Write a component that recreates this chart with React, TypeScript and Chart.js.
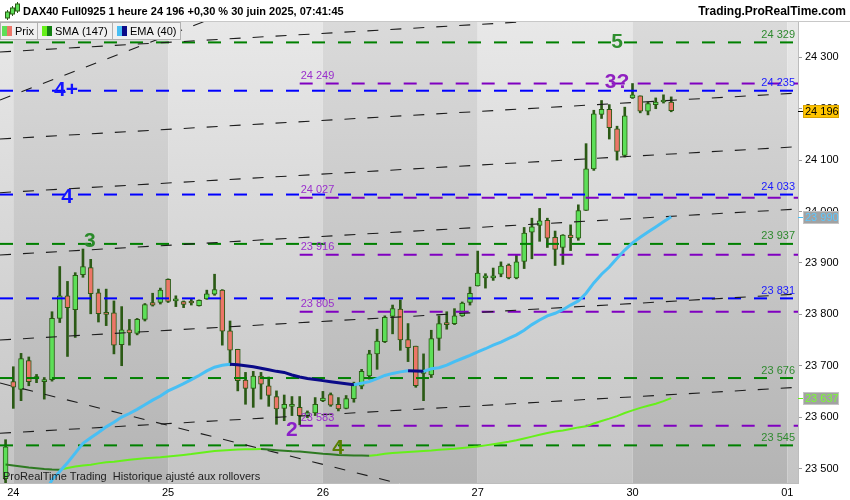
import React, { useEffect, useRef } from "react";
import { Chart, registerables } from "chart.js";

Chart.register(...registerables);

const FONT = '"Liberation Sans", Arial, sans-serif';

// x = hourly bar index (0 = first bar of Tue 24 June, 20 bars per day)
const FIRST_BAR = -1;
const OPEN = [23480, 23669, 23654, 23710, 23675, 23669, 23673, 23792, 23836, 23809, 23877, 23891, 23842, 23801, 23803, 23741, 23770, 23763, 23790, 23823, 23823, 23868, 23826, 23825, 23825, 23817, 23830, 23839, 23847, 23768, 23732, 23672, 23656, 23680, 23661, 23640, 23617, 23621, 23619, 23603, 23608, 23632, 23644, 23625, 23617, 23636, 23660, 23680, 23723, 23747, 23796, 23810, 23751, 23738, 23685, 23682, 23753, 23784, 23782, 23797, 23823, 23855, 23871, 23871, 23878, 23896, 23871, 23903, 23960, 23973, 23983, 23950, 23930, 23954, 23948, 24002, 24083, 24189, 24199, 24161, 24109, 24221, 24225, 24195, 24208, 24213, 24213];
const HIGH = [23556, 23698, 23724, 23717, 23683, 23677, 23805, 23893, 23864, 23881, 23927, 23907, 23849, 23849, 23826, 23815, 23790, 23792, 23821, 23841, 23851, 23869, 23836, 23826, 23829, 23828, 23847, 23878, 23848, 23787, 23732, 23687, 23689, 23687, 23678, 23651, 23643, 23640, 23640, 23612, 23638, 23650, 23647, 23638, 23642, 23668, 23693, 23730, 23771, 23797, 23818, 23828, 23782, 23738, 23723, 23769, 23797, 23805, 23811, 23824, 23853, 23923, 23879, 23890, 23902, 23898, 23915, 23969, 23987, 24006, 23987, 23962, 23955, 23974, 24013, 24132, 24197, 24216, 24208, 24166, 24203, 24249, 24225, 24213, 24221, 24227, 24223];
const LOW = [23460, 23617, 23632, 23661, 23667, 23635, 23670, 23784, 23718, 23755, 23872, 23801, 23785, 23778, 23723, 23700, 23740, 23760, 23787, 23816, 23820, 23823, 23815, 23813, 23818, 23816, 23829, 23837, 23740, 23700, 23651, 23625, 23619, 23635, 23621, 23586, 23593, 23603, 23585, 23599, 23603, 23630, 23621, 23612, 23616, 23629, 23655, 23674, 23693, 23745, 23762, 23730, 23708, 23658, 23632, 23677, 23730, 23771, 23780, 23796, 23818, 23855, 23851, 23866, 23873, 23869, 23869, 23889, 23908, 23942, 23930, 23895, 23897, 23924, 23944, 24002, 24080, 24181, 24141, 24100, 24106, 24220, 24192, 24188, 24200, 24211, 24194];
const CLOSE = [23542, 23658, 23714, 23669, 23678, 23673, 23792, 23836, 23813, 23876, 23893, 23840, 23801, 23800, 23740, 23770, 23764, 23790, 23819, 23818, 23847, 23825, 23827, 23819, 23822, 23827, 23840, 23848, 23767, 23730, 23671, 23656, 23680, 23664, 23642, 23616, 23625, 23622, 23603, 23609, 23625, 23637, 23623, 23616, 23636, 23662, 23689, 23723, 23748, 23794, 23811, 23750, 23735, 23661, 23686, 23753, 23782, 23780, 23797, 23822, 23841, 23880, 23875, 23875, 23894, 23871, 23902, 23958, 23970, 23982, 23948, 23926, 23954, 23949, 24002, 24083, 24190, 24199, 24163, 24117, 24186, 24227, 24195, 24210, 24213, 24214, 24196];

const EMA_START = 3;
const EMA40 = [23420, 23450, 23478, 23494, 23511, 23530, 23549, 23560, 23570, 23581, 23590, 23600, 23607, 23615, 23624, 23633, 23641, 23651, 23658, 23665, 23673, 23681, 23690, 23697, 23701, 23703, 23702, 23700, 23698, 23695, 23692, 23689, 23687, 23682, 23678, 23675, 23673, 23671, 23669, 23667, 23665, 23663, 23666, 23669, 23675, 23681, 23685, 23688, 23690, 23689.5, 23689, 23694, 23696, 23701, 23708, 23714, 23720, 23727, 23733, 23740, 23746, 23753, 23760, 23769, 23780, 23789, 23797, 23802, 23809, 23818, 23826, 23841, 23861, 23878, 23892, 23909, 23925, 23939, 23950, 23960, 23970, 23980, 23990];

const SMA_START = -1;
const SMA147 = [23508, 23506, 23504, 23502, 23500.5, 23499, 23498, 23497.5, 23501, 23504, 23506, 23507.5, 23510, 23512, 23513, 23515, 23517, 23518.5, 23520, 23521, 23522, 23523.5, 23525, 23526.5, 23528, 23530, 23532, 23534, 23535, 23536, 23537, 23537.5, 23537.7, 23537.8, 23536.8, 23535.5, 23534.5, 23533.5, 23533, 23531.5, 23530, 23528.5, 23527.5, 23526.5, 23526, 23525.5, 23525.3, 23525, 23526.5, 23528.5, 23530, 23531, 23532, 23533, 23534, 23535, 23536.5, 23537.5, 23538.5, 23540, 23541.5, 23543, 23545, 23547.3, 23549.6, 23552, 23555, 23558.4, 23562, 23565.6, 23569, 23572, 23574, 23577, 23580, 23582, 23587.5, 23592.4, 23597, 23602, 23608, 23613, 23618, 23622, 23626, 23631, 23637];

const DAY_TICKS = [0, 20, 40, 60, 80, 100];
const DAY_LABELS = ["24", "25", "26", "27", "30", "01"];
const Y_TICKS = [23500, 23600, 23700, 23800, 23900, 24000, 24100, 24200, 24300];

const GREEN_LEVELS = [24329, 23937, 23676, 23545];
const BLUE_LEVELS = [24235, 24033, 23831];
const PURPLE_LEVELS = [24249, 24027, 23916, 23805, 23583];
const PURPLE_FROM = 37;

// trend lines: [bar1, price1, bar2, price2]
const TRENDLINES = [
  [-1.72, 24310.3, 101.38, 24399.8],
  [-1.72, 24141.0, 101.38, 24230.5],
  [-1.72, 24036.6, 101.38, 24126.1],
  [-1.72, 23915.4, 101.38, 24004.9],
  [-1.72, 23750.0, 101.38, 23839.5],
  [-1.72, 23568.5, 101.38, 23658.0],
  [-1.72, 24216.9, 30, 24400.5],
  [-1.72, 23666.3, 60, 23432.1],
];

const MARK_TEXT = ["5", "3?", "4+", "4", "3", "2", "4"];
const MARK_BAR = [78, 78, 6.8, 6.94, 9.9, 36, 41.95];
const MARK_PRICE = [24330, 24252, 24236, 24028, 23943, 23575, 23540];
const MARK_COLOR = ["#2f8f2f", "#9020c0", "#1414ff", "#1414ff", "#2a8a2a", "#8a1fc8", "#5a7f00"];

const X_MIN = -1.72;
const X_MAX = 101.38;
const Y_MIN = 23471.8;
const Y_MAX = 24368.7;

const C_GREEN = "#5ddf58";
const C_RED = "#ec7668";
const C_EDGE = "#2b5a15";
const LV_GREEN = "#008000";
const LV_BLUE = "#0000ff";
const LV_PURPLE = "#8000c0";
const EMA_UP = "#48bff4";
const EMA_DOWN = "#0a0a88";
const SMA_UP = "#66f01a";
const SMA_DOWN = "#2e7a22";

const fmt = (v: number) => {
  const r = Math.round(v);
  const th = Math.floor(r / 1000);
  const rest = String(r % 1000).padStart(3, "0");
  return `${th} ${rest}`;
};

const bgPlugin = {
  id: "bg",
  beforeDraw(chart: any) {
    const { ctx, chartArea: a, scales } = chart;
    ctx.save();
    ctx.fillStyle = "#ffffff";
    ctx.fillRect(0, 0, chart.width, chart.height);
    const light = ctx.createLinearGradient(0, a.top, 0, a.bottom);
    light.addColorStop(0, "#e8e8e8");
    light.addColorStop(1, "#c4c4c4");
    const dark = ctx.createLinearGradient(0, a.top, 0, a.bottom);
    dark.addColorStop(0, "#dadada");
    dark.addColorStop(1, "#b4b4b4");
    const bounds = [X_MIN, ...DAY_TICKS, X_MAX];
    for (let k = 0; k < bounds.length - 1; k++) {
      const x0 = scales.x.getPixelForValue(bounds[k]);
      const x1 = scales.x.getPixelForValue(bounds[k + 1]);
      ctx.fillStyle = k % 2 === 0 ? light : dark;
      ctx.fillRect(x0, a.top, x1 - x0, a.bottom - a.top);
    }
    // header
    ctx.fillStyle = "#ffffff";
    ctx.fillRect(0, 0, chart.width, a.top);
    ctx.strokeStyle = "#c8c8c8";
    ctx.lineWidth = 1;
    ctx.beginPath();
    ctx.moveTo(0, a.top - 0.5);
    ctx.lineTo(chart.width, a.top - 0.5);
    ctx.stroke();
    // small candle icon
    const icon = [
      [7, 12, 18, 10, 20],
      [12, 8, 14, 6, 16],
      [17, 4, 11, 2, 13],
    ];
    icon.forEach(([x, t, b, wt, wb]) => {
      ctx.strokeStyle = C_EDGE;
      ctx.beginPath();
      ctx.moveTo(x + 0.5, wt);
      ctx.lineTo(x + 0.5, wb);
      ctx.stroke();
      ctx.fillStyle = C_GREEN;
      ctx.fillRect(x - 1.5, t, 4, b - t);
      ctx.strokeRect(x - 1.5, t, 4, b - t);
    });
    ctx.fillStyle = "#000";
    ctx.textBaseline = "middle";
    ctx.textAlign = "left";
    ctx.font = `bold 11px ${FONT}`;
    ctx.fillText("DAX40 Full0925 1 heure 24 196 +0,30 % 30 juin 2025, 07:41:45", 23, 12);
    ctx.textAlign = "right";
    ctx.font = `bold 12px ${FONT}`;
    ctx.fillText("Trading.ProRealTime.com", 846, 12);
    ctx.restore();
  },
  afterDatasetsDraw(chart: any) {
    const { ctx, chartArea: a, scales } = chart;
    const xs = scales.x;
    const ys = scales.y;
    ctx.save();
    ctx.font = `11px ${FONT}`;
    ctx.textBaseline = "bottom";
    ctx.textAlign = "right";
    GREEN_LEVELS.forEach((v) => {
      ctx.fillStyle = "#2f8a2f";
      ctx.fillText(fmt(v), a.right - 3, ys.getPixelForValue(v) - 2);
    });
    BLUE_LEVELS.forEach((v) => {
      ctx.fillStyle = "#1a1aff";
      ctx.fillText(fmt(v), a.right - 3, ys.getPixelForValue(v) - 2);
    });
    ctx.textAlign = "left";
    PURPLE_LEVELS.forEach((v) => {
      ctx.fillStyle = "#9a30cc";
      ctx.fillText(fmt(v), xs.getPixelForValue(PURPLE_FROM) + 1, ys.getPixelForValue(v) - 2);
    });
    ctx.font = `bold 21px ${FONT}`;
    ctx.textAlign = "center";
    ctx.textBaseline = "middle";
    MARK_TEXT.forEach((t, k) => {
      ctx.fillStyle = MARK_COLOR[k];
      ctx.fillText(t, xs.getPixelForValue(MARK_BAR[k]), ys.getPixelForValue(MARK_PRICE[k]));
    });
    ctx.restore();
  },
  afterDraw(chart: any) {
    const { ctx, chartArea: a, scales } = chart;
    const ys = scales.y;
    ctx.save();
    // legend box
    const ly = a.top;
    ctx.fillStyle = "#f0f0f0";
    ctx.fillRect(0, ly, 180, 18);
    ctx.strokeStyle = "#b0b0b0";
    ctx.lineWidth = 1;
    ctx.strokeRect(0.5, ly + 0.5, 180, 17);
    ctx.beginPath();
    ctx.moveTo(37.5, ly);
    ctx.lineTo(37.5, ly + 18);
    ctx.moveTo(112.5, ly);
    ctx.lineTo(112.5, ly + 18);
    ctx.stroke();
    const sw = (x: number, c1: string, c2: string) => {
      ctx.fillStyle = c1;
      ctx.fillRect(x, ly + 4, 5, 10);
      ctx.fillStyle = c2;
      ctx.fillRect(x + 5, ly + 4, 5, 10);
    };
    sw(2, C_GREEN, C_RED);
    sw(42, SMA_UP, "#138013");
    sw(117, EMA_UP, EMA_DOWN);
    ctx.fillStyle = "#000";
    ctx.font = `11px ${FONT}`;
    ctx.textAlign = "left";
    ctx.textBaseline = "middle";
    ctx.fillText("Prix", 15, ly + 9.5);
    ctx.fillText("SMA (147)", 55, ly + 9.5);
    ctx.fillText("EMA (40)", 130, ly + 9.5);
    // watermark
    ctx.fillStyle = "#1e1e1e";
    ctx.textBaseline = "alphabetic";
    ctx.fillText("ProRealTime Trading  Historique ajusté aux rollovers", 3, a.bottom - 3);
    // badges
    const badges = [
      { v: CLOSE[CLOSE.length - 1], bg: "#ffc400", fg: "#000000", tick: "#000000", bd: "#d9a400" },
      { v: EMA40[EMA40.length - 1], bg: "#a2a2a2", fg: "#5cc8ff", tick: EMA_UP, bd: "#c4c4c4" },
      { v: SMA147[SMA147.length - 1], bg: "#a2a2a2", fg: "#78ff30", tick: SMA_UP, bd: "#c4c4c4" },
    ];
    ctx.font = `11px ${FONT}`;
    badges.forEach((b) => {
      const y = Math.round(ys.getPixelForValue(b.v));
      ctx.strokeStyle = b.tick;
      ctx.beginPath();
      ctx.moveTo(a.right, y + 0.5);
      ctx.lineTo(a.right + 5, y + 0.5);
      ctx.stroke();
      ctx.fillStyle = b.bg;
      ctx.fillRect(a.right + 5, y - 6, 36, 13);
      ctx.strokeStyle = b.bd;
      ctx.strokeRect(a.right + 5.5, y - 5.5, 35, 12);
      ctx.fillStyle = b.fg;
      ctx.textAlign = "left";
      ctx.textBaseline = "middle";
      ctx.fillText(fmt(b.v), a.right + 7, y + 1);
    });
    ctx.restore();
  },
};

export default function App() {
  const ref = useRef<HTMLCanvasElement | null>(null);
  useEffect(() => {
    document.body.style.margin = "0";
    const canvas = ref.current;
    if (!canvas) return;
    const bars = OPEN.map((_, k) => FIRST_BAR + k);
    const wicks = bars.map((x, k) => ({ x, y: [LOW[k], HIGH[k]] }));
    const bodies = bars.map((x, k) => ({ x, y: [OPEN[k], CLOSE[k]] }));
    const bodyColors = bars.map((_, k) => (CLOSE[k] >= OPEN[k] ? C_GREEN : C_RED));
    const ema = EMA40.map((y, k) => ({ x: EMA_START + k, y }));
    const sma = SMA147.map((y, k) => ({ x: SMA_START + k, y }));

    const levelDs = (v: number, color: string, from: number) => ({
      type: "line",
      data: [
        { x: from, y: v },
        { x: X_MAX, y: v },
      ],
      borderColor: color,
      borderWidth: 2,
      borderDash: [13, 13],
      pointRadius: 0,
      clip: 0,
      order: 3,
    });

    const datasets: any[] = [
      {
        type: "line",
        data: ema,
        borderWidth: 3,
        pointRadius: 0,
        borderColor: EMA_UP,
        segment: {
          borderColor: (c: any) => (c.p1.parsed.y < c.p0.parsed.y ? EMA_DOWN : EMA_UP),
        },
        clip: 0,
        order: 0,
      },
      {
        type: "line",
        data: sma,
        borderWidth: 2,
        pointRadius: 0,
        borderColor: SMA_UP,
        segment: {
          borderColor: (c: any) => (c.p1.parsed.y < c.p0.parsed.y ? SMA_DOWN : SMA_UP),
        },
        clip: 0,
        order: 1,
      },
      ...TRENDLINES.map((t) => ({
        type: "line",
        data: [
          { x: t[0], y: t[1] },
          { x: t[2], y: t[3] },
        ],
        borderColor: "#1c1c1c",
        borderWidth: 1.1,
        borderDash: [11, 12],
        pointRadius: 0,
        clip: 0,
        order: 2,
      })),
      ...GREEN_LEVELS.map((v) => levelDs(v, LV_GREEN, X_MIN)),
      ...BLUE_LEVELS.map((v) => levelDs(v, LV_BLUE, X_MIN)),
      ...PURPLE_LEVELS.map((v) => levelDs(v, LV_PURPLE, PURPLE_FROM)),
      {
        type: "bar",
        data: bodies,
        backgroundColor: bodyColors,
        borderColor: C_EDGE,
        borderWidth: 1,
        borderSkipped: false,
        barThickness: 5,
        minBarLength: 2,
        grouped: false,
        clip: 0,
        order: 5,
      },
      {
        type: "bar",
        data: wicks,
        backgroundColor: C_EDGE,
        borderWidth: 0,
        barThickness: 2,
        grouped: false,
        clip: 0,
        order: 6,
      },
    ];

    const chart = new Chart(canvas, {
      type: "line",
      data: { datasets },
      options: {
        animation: false,
        responsive: false,
        maintainAspectRatio: false,
        layout: { padding: { top: 22, left: 0, right: 0, bottom: 0 } },
        plugins: { legend: { display: false }, tooltip: { enabled: false } },
        font: { family: FONT },
        scales: {
          x: {
            type: "linear",
            min: X_MIN,
            max: X_MAX,
            offset: false,
            position: "bottom",
            grid: { display: false, drawTicks: false },
            border: { display: true, color: "#bdbdbd" },
            afterBuildTicks: (s: any) => {
              s.ticks = DAY_TICKS.map((value) => ({ value }));
            },
            afterFit: (s: any) => {
              s.height = 17;
            },
            ticks: {
              autoSkip: false,
              maxRotation: 0,
              padding: 3,
              color: "#000",
              font: { family: FONT, size: 11 },
              callback: (_v: any, i: number) => DAY_LABELS[i],
            },
          },
          y: {
            type: "linear",
            position: "right",
            min: Y_MIN,
            max: Y_MAX,
            grid: { drawOnChartArea: false, drawTicks: true, tickLength: 4, color: "#9a9a9a" },
            border: { display: true, color: "#bdbdbd" },
            afterBuildTicks: (s: any) => {
              s.ticks = Y_TICKS.map((value) => ({ value }));
            },
            afterFit: (s: any) => {
              s.width = 52;
            },
            ticks: {
              padding: 3,
              color: "#000",
              font: { family: FONT, size: 11 },
              callback: (v: any) => fmt(Number(v)),
            },
          },
        },
      } as any,
      plugins: [bgPlugin],
    } as any);
    return () => chart.destroy();
  }, []);

  return (
    <div style={{ width: 850, height: 500, position: "relative" }}>
      <canvas ref={ref} width={850} height={500} style={{ display: "block", width: 850, height: 500 }} />
    </div>
  );
}
